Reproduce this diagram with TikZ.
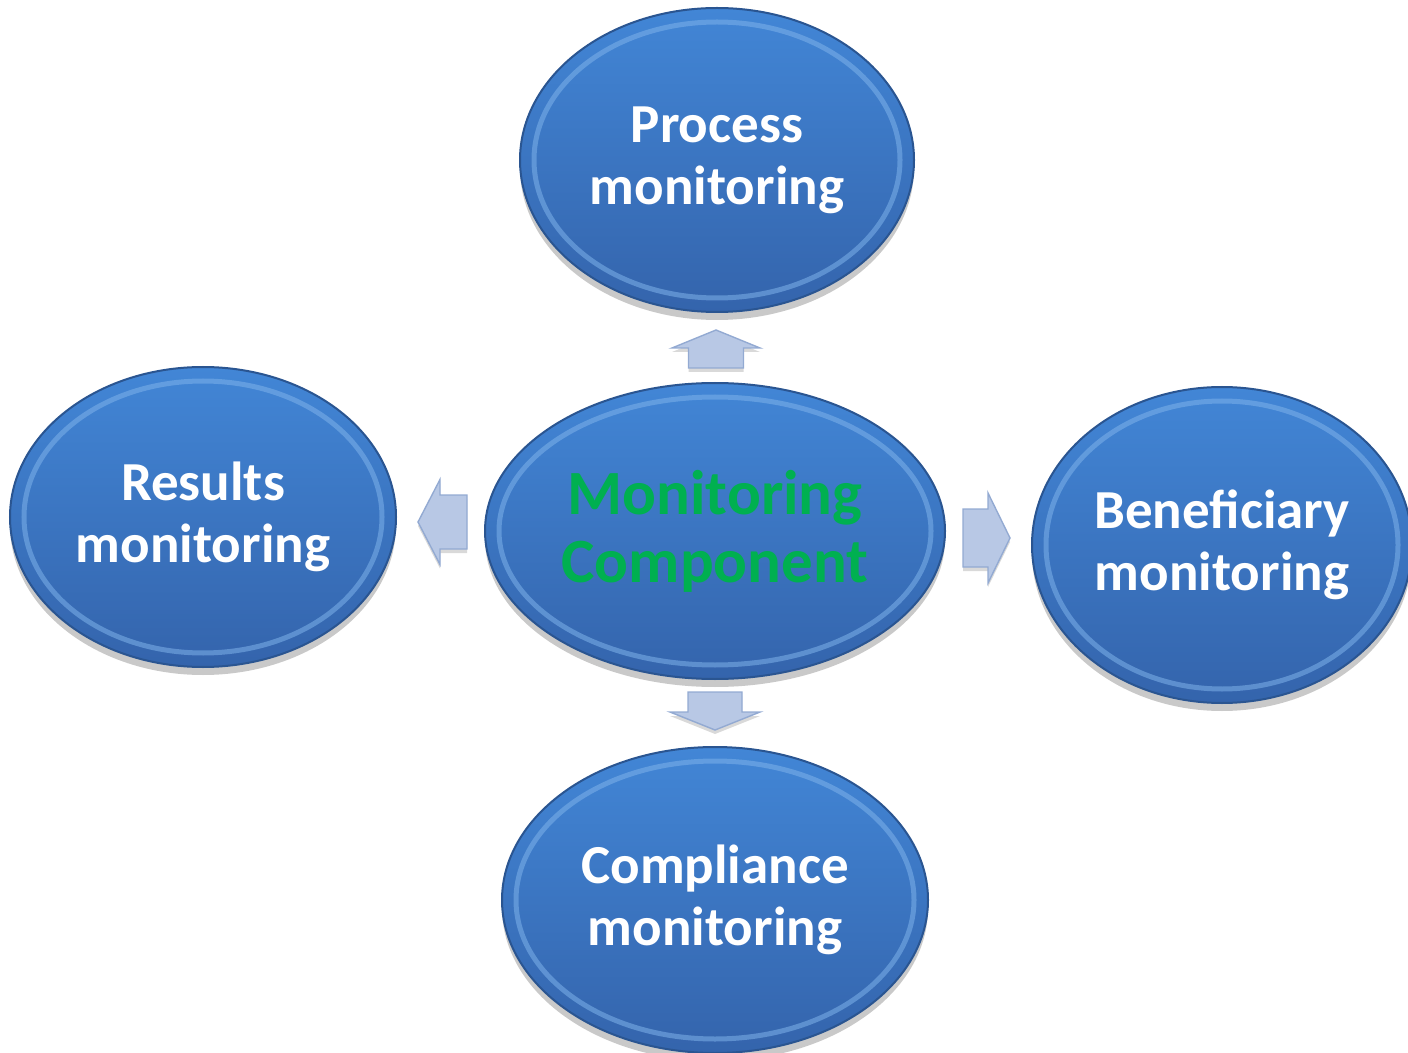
\documentclass[tikz,border=0pt]{standalone}
\usepackage{fontspec}
\setmainfont{Carlito}
\usetikzlibrary{positioning,calc,shapes.geometric,shadows}
\definecolor{ovaltop}{HTML}{4286D6}
\definecolor{ovalbot}{HTML}{3464AC}
\definecolor{ovaledge}{HTML}{2A5591}
\definecolor{ovalrim}{HTML}{7EB2EA}
\definecolor{arrowfill}{HTML}{B8C8E5}
\definecolor{arrowedge}{HTML}{93AAD2}
\definecolor{maingreen}{HTML}{00B050}
\tikzset{main node/.style={ellipse,draw=ovaledge,line width=1pt,top color=ovaltop,bottom color=ovalbot,inner sep=0pt,align=center,text=white,font=\bfseries\fontsize{27.5}{31}\selectfont,drop shadow={shadow xshift=0pt,shadow yshift=-4pt,opacity=0.3,fill=black!70},path picture={\draw[ovalrim,line width=2.5pt,opacity=0.55] let \p1=(path picture bounding box.north east), \p2=(path picture bounding box.center) in (\p2) ellipse ({\x1-\x2-7pt} and {\y1-\y2-7pt});}},
block arrow/.style={draw=arrowedge,fill=arrowfill,line width=0.7pt,line join=miter,drop shadow={shadow xshift=0pt,shadow yshift=-2pt,opacity=0.25,fill=black!60}},
pics/barrow/.style n args={4}{code={\draw[block arrow] (0pt,-#2) -- ({#1-#4},-#2) -- ({#1-#4},-#3) -- (#1,0pt) -- ({#1-#4},#3) -- ({#1-#4},#2) -- (0pt,#2) -- cycle;}},}

\begin{document}
\begin{tikzpicture}[x=0.5pt,y=-0.5pt]
        \useasboundingbox (0,0) rectangle (1408,1053);
        \node[main node,minimum width=230pt,minimum height=148pt,text=maingreen,font=\bfseries\fontsize{31.5}{34}\selectfont] (center) at (715,531) {Monitoring\\Component};
        \node[main node,minimum width=197pt,minimum height=152pt] (process) at (717,160) {Process\\monitoring};
        \node[main node,minimum width=193pt,minimum height=150pt] (results) at (203,517) {Results\\monitoring};
        \node[main node,minimum width=190pt,minimum height=158pt] (benef) at (1222,545) {Beneficiary\\monitoring};
        \node[main node,minimum width=213pt,minimum height=153pt] (compl) at (715,900) {Compliance\\monitoring};

        % block arrows: length, shaft half width, head half width, head length
        \pic[rotate=90] (up) at (716,368) {barrow={19pt}{13.75pt}{22pt}{9pt}};
        \pic[rotate=180] (lt) at (467,522) {barrow={24.5pt}{13.5pt}{21.25pt}{11pt}};
        \pic[rotate=0] (rt) at (963,538) {barrow={23.5pt}{14.5pt}{22.5pt}{11pt}};
        \pic[rotate=-90] (dn) at (715,692) {barrow={19pt}{13.5pt}{22.5pt}{9pt}};
    \end{tikzpicture}
\end{document}
